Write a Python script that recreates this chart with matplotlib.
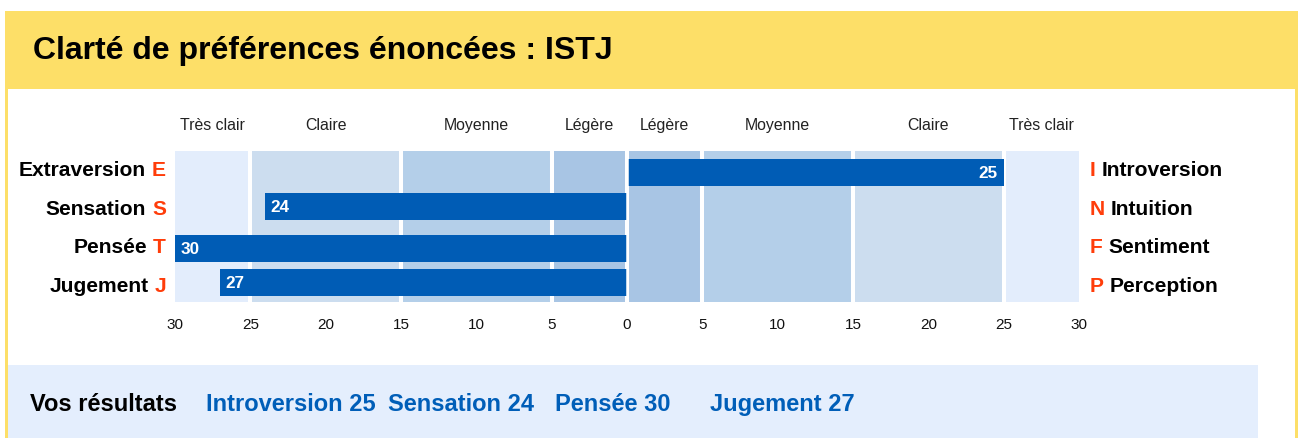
import matplotlib
matplotlib.use("Agg")
import matplotlib.pyplot as plt
from matplotlib.patches import Rectangle

plt.rcParams['font.family'] = ['Liberation Sans', 'DejaVu Sans']

# ---------------- data ----------------
title = "Clarté de préférences énoncées : ISTJ"
left_names = ["Extraversion", "Sensation", "Pensée", "Jugement"]
left_letters = ["E", "S", "T", "J"]
right_letters = ["I", "N", "F", "P"]
right_names = ["Introversion", "Intuition", "Sentiment", "Perception"]
scores = [25, 24, 30, 27]
sides = ["right", "left", "left", "left"]          # pole chosen per row
band_edges = [0, 5, 15, 25, 30]
band_labels = ["Légère", "Moyenne", "Claire", "Très clair"]
tick_values = [0, 5, 10, 15, 20, 25, 30]
results_label = "Vos résultats"

# ---------------- styles ----------------
W, H = 1298, 438
YELLOW = "#fddf68"
RED = "#ff3d0a"
BAR = "#005cb5"
TXTBLUE = "#005eb8"
BAND_COLORS = ["#a8c5e4", "#b4cfe9", "#ccddef", "#e3edfc"]
BOX = "#e4eefd"

# layout (pixels)
CH_L, CH_R, CH_T, CH_B = 175, 1079, 151, 302
ROW_CENTERS = [172.5, 206.5, 248.5, 282.5]
LABEL_BASELINES = [176, 215, 253, 292]
BAR_H = 27
RES_X = [206, 388, 555, 710]

fig = plt.figure(figsize=(W / 100, H / 100), dpi=100)
bg = fig.add_axes([0, 0, 1, 1])
bg.set_xlim(0, W)
bg.set_ylim(H, 0)
bg.axis("off")

# frame / header / bottom box
bg.add_patch(Rectangle((5, 11), W - 5, 78, color=YELLOW, lw=0))
bg.add_patch(Rectangle((5, 89), 2.5, H - 89, color=YELLOW, lw=0))
bg.add_patch(Rectangle((1295, 89), 3, H - 89, color=YELLOW, lw=0))
bg.add_patch(Rectangle((7.5, 365), 1258 - 7.5, H - 365, color=BOX, lw=0))

bg.text(33, 59, title, fontsize=23, fontweight="bold", color="black",
        ha="left", va="baseline")

# chart axes in pixel-aligned box
ax = fig.add_axes([CH_L / W, 1 - CH_B / H, (CH_R - CH_L) / W, (CH_B - CH_T) / H])
ax.set_xlim(-30, 30)
ax.set_ylim(CH_B, CH_T)
ax.axis("off")

# bands (both sides)
for i in range(len(band_labels)):
    a, b = band_edges[i], band_edges[i + 1]
    for s in (-1, 1):
        ax.axvspan(s * a, s * b, color=BAND_COLORS[i], lw=0, zorder=0)
        ax.text(s * (a + b) / 2, 130, band_labels[i], fontsize=11.4,
                ha="center", va="baseline", color="#222222", clip_on=False)
for e in band_edges[1:-1]:
    for s in (-1, 1):
        ax.axvline(s * e, color="white", lw=2.9, zorder=1)
ax.axvline(0, color="white", lw=2.9, zorder=1)

# bars
for y, sc, sd in zip(ROW_CENTERS, scores, sides):
    sign = 1 if sd == "right" else -1
    ax.barh(y, sign * sc, height=BAR_H, color=BAR, lw=0, zorder=2)
    if sign > 0:
        ax.text(sc - 0.4, y + 6, str(sc), color="white", fontsize=12.3,
                fontweight="bold", ha="right", va="baseline", zorder=3)
    else:
        ax.text(-sc + 0.35, y + 6, str(sc), color="white", fontsize=12.3,
                fontweight="bold", ha="left", va="baseline", zorder=3)
ax.axvline(0, color="white", lw=1.8, zorder=2.5)

# tick labels
for t in tick_values:
    for s in ((-1, 1) if t else (1,)):
        ax.text(s * t, 329, str(t), fontsize=11, ha="center", va="baseline",
                color="#111111", clip_on=False)

# row labels
for yb, ln, ll, rl, rn in zip(LABEL_BASELINES, left_names, left_letters,
                             right_letters, right_names):
    lt = bg.text(166, yb, ll, color=RED, fontsize=15.1, fontweight="bold",
                 ha="right", va="baseline")
    bg.annotate(ln, xy=(0, 0), xycoords=lt, xytext=(-4.2, 0),
                textcoords="offset points", ha="right", va="bottom",
                fontsize=15.1, fontweight="bold", color="black")
    rt = bg.text(1090, yb, rl, color=RED, fontsize=15.1, fontweight="bold",
                 ha="left", va="baseline")
    bg.annotate(rn, xy=(1, 0), xycoords=rt, xytext=(4.2, 0),
                textcoords="offset points", ha="left", va="bottom",
                fontsize=15.1, fontweight="bold", color="black")

# results line
bg.text(30, 411, results_label, fontsize=17, fontweight="bold",
        color="black", ha="left", va="baseline")
for x, ln, rn, sc, sd in zip(RES_X, left_names, right_names, scores, sides):
    name = rn if sd == "right" else ln
    bg.text(x, 411, f"{name} {sc}", fontsize=17, fontweight="bold",
            color=TXTBLUE, ha="left", va="baseline")

fig.savefig("out.png", dpi=100)
